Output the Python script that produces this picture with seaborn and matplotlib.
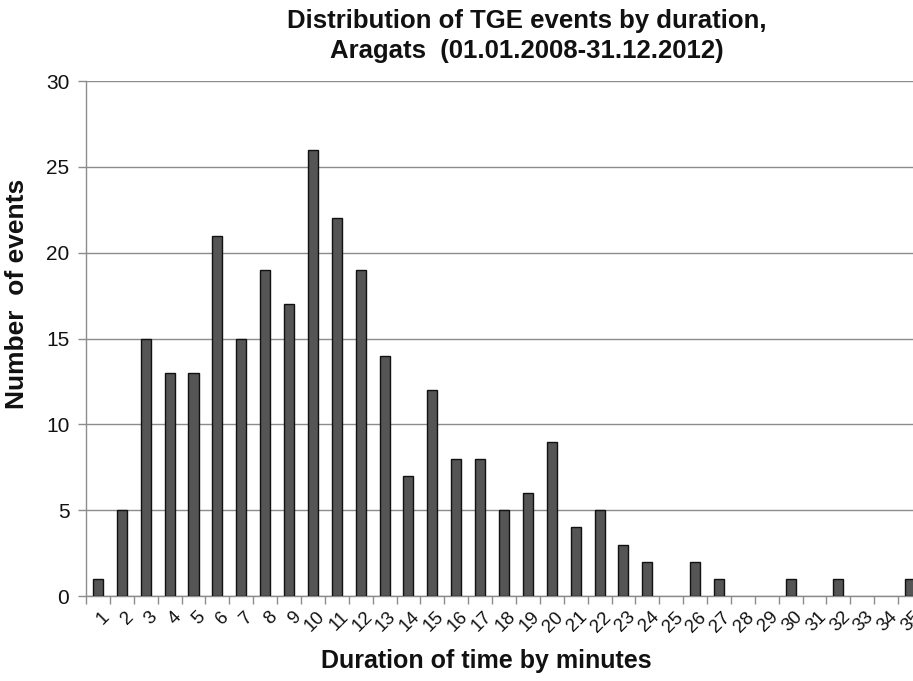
import numpy as np
import pandas as pd
import matplotlib
matplotlib.use("Agg")
import matplotlib.pyplot as plt
import seaborn as sns
from matplotlib.ticker import FixedLocator
from matplotlib.transforms import ScaledTranslation

durations = [str(i) for i in range(1, 36)]
counts = [1, 5, 15, 13, 13, 21, 15, 19, 17, 26, 22, 19, 14, 7, 12, 8, 8, 5, 6, 9,
          4, 5, 3, 2, 0, 2, 1, 0, 0, 1, 0, 1, 0, 0, 1]
y_ticks = [0, 5, 10, 15, 20, 25, 30]

title = "Distribution of TGE events by duration,\nAragats  (01.01.2008-31.12.2012)"
xlabel = "Duration of time by minutes"
ylabel = "Number  of events"

sns.set_theme(style="white")
plt.rcParams['font.family'] = ['Liberation Sans', 'DejaVu Sans']

df = pd.DataFrame({"duration": durations, "count": counts})

fig = plt.figure(figsize=(9.13, 6.81), dpi=100)
ax = fig.add_axes([0.0942, 0.1248, 0.9157, 0.756])

sns.barplot(data=df, x="duration", y="count", order=durations, ax=ax,
            color="#555555", saturation=1, width=0.42,
            edgecolor="#111111", linewidth=1.0, zorder=3)
for p in ax.patches:
    if p.get_height() == 0:
        p.set_visible(False)

ax.set_xlim(-0.5, len(durations) - 0.5)
ax.set_ylim(0, 30)
ax.set_yticks(y_ticks)
ax.yaxis.grid(True, color="#8c8c8c", linewidth=1.0, zorder=0)
ax.set_axisbelow(True)

for s in ["top", "right"]:
    ax.spines[s].set_visible(False)
ax.spines["left"].set_color("#8c8c8c")
ax.spines["bottom"].set_color("#8c8c8c")
ax.spines["left"].set_linewidth(1.0)
ax.spines["bottom"].set_linewidth(1.0)

ax.tick_params(axis="y", which="major", left=True, length=6, width=1.0,
               color="#8c8c8c", labelsize=15, labelcolor="#111111", pad=6)
ax.tick_params(axis="x", which="major", bottom=False, length=0,
               labelsize=13.5, labelcolor="#111111", pad=9)
ax.xaxis.set_minor_locator(FixedLocator(np.arange(-0.5, len(durations), 1.0)))
ax.tick_params(axis="x", which="minor", bottom=True, length=6, width=1.0,
               color="#8c8c8c", direction="out")
offset = ScaledTranslation(3 / 100, 0, fig.dpi_scale_trans)
for lab in ax.get_xticklabels():
    lab.set_rotation(45)
    lab.set_ha("right")
    lab.set_va("top")
    lab.set_rotation_mode("anchor")
    lab.set_transform(lab.get_transform() + offset)

ax.set_xlabel(xlabel, fontsize=18, fontweight="bold", color="#111111", labelpad=0)
ax.xaxis.set_label_coords((486 - 86) / 836, -0.102)
ax.set_ylabel(ylabel, fontsize=19, fontweight="bold", color="#111111", labelpad=8)
ax.yaxis.set_label_coords(-0.068, (596 - 294) / 515)

fig.text(527 / 913, 1 - 36 / 681, title, ha="center", va="center",
         fontsize=18.5, fontweight="bold", color="#111111", linespacing=1.35)

fig.savefig("out.png", dpi=100)
